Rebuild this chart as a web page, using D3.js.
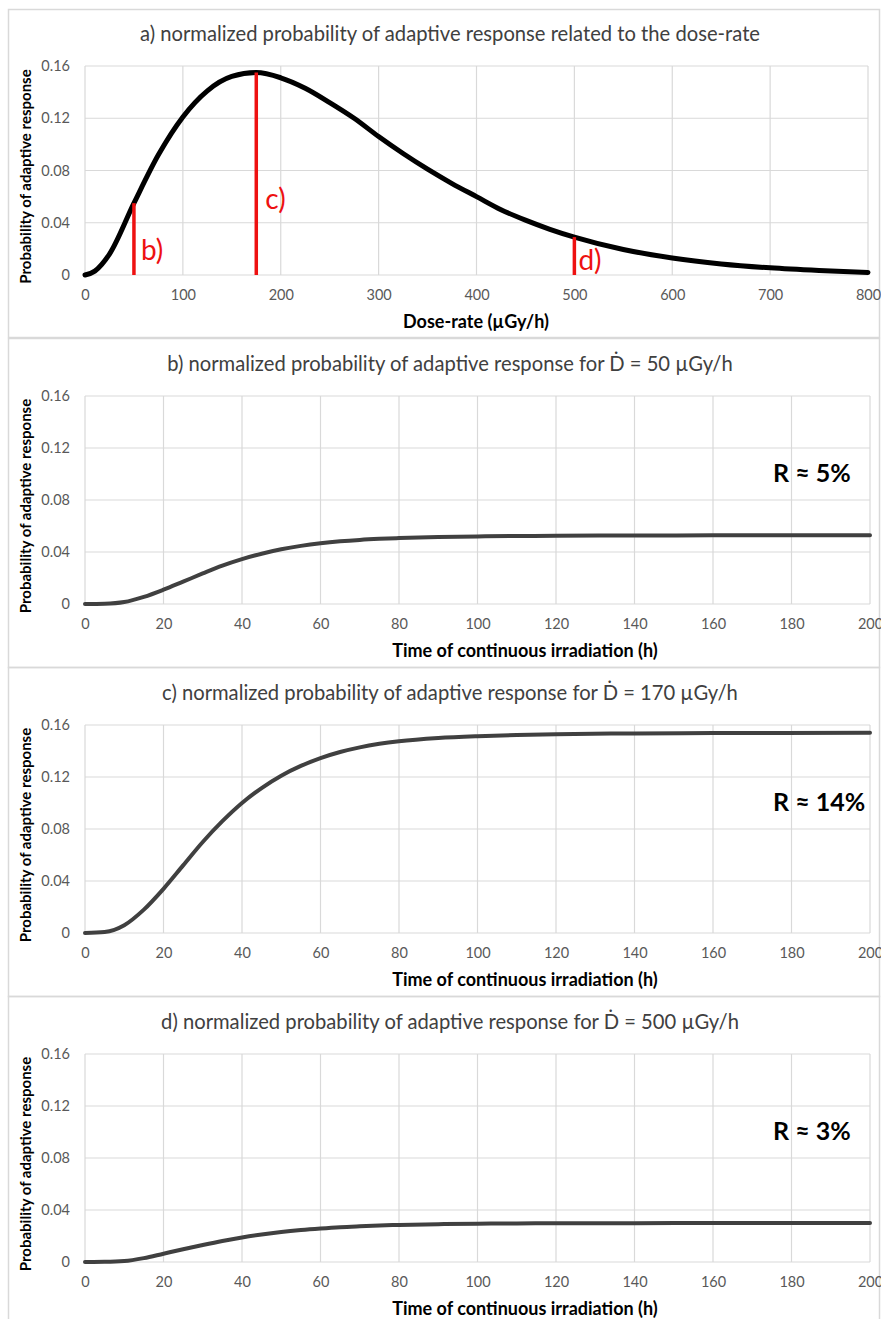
<!DOCTYPE html>
<html>
<head>
<meta charset="utf-8">
<script src="https://cdn.jsdelivr.net/npm/d3@7"></script>
<style>
  body { margin: 0; background: #fff; }
  text { font-family: Lato, "Open Sans", sans-serif; }
</style>
</head>
<body>
<div class="graph"></div>
<script>
// data
var doseRate = [0, 10, 25, 50, 75, 100, 125, 150, 175, 200, 225, 250, 275, 300, 325, 350, 375, 400, 425, 450, 475, 500, 550, 600, 650, 700, 750, 800]
var probDose = [0, 0.003, 0.016, 0.055, 0.092, 0.121, 0.141, 0.152, 0.155, 0.151, 0.143, 0.132, 0.120, 0.106, 0.093, 0.081, 0.070, 0.060, 0.050, 0.042, 0.035, 0.029, 0.0195, 0.013, 0.0085, 0.0055, 0.0035, 0.002]

var markerDose = [50, 175, 500]
var markerProb = [0.055, 0.155, 0.029]
var markerLabels = ['b)', 'c)', 'd)']

var timeH = [0, 5, 10, 15, 20, 25, 30, 35, 40, 45, 50, 55, 60, 65, 70, 75, 80, 90, 100, 110, 120, 140, 160, 200]
var prob50 = [0, 0.0002, 0.0015, 0.0055, 0.0110, 0.0172, 0.0235, 0.0295, 0.0345, 0.0387, 0.0421, 0.0447, 0.0467, 0.0482, 0.0493, 0.0501, 0.0507, 0.0515, 0.0520, 0.0523, 0.0525, 0.0527, 0.0528, 0.0528]
var prob170 = [0, 0.0008, 0.006, 0.018, 0.034, 0.052, 0.070, 0.086, 0.100, 0.1115, 0.121, 0.1285, 0.1345, 0.1392, 0.1428, 0.1455, 0.1475, 0.1500, 0.1514, 0.1523, 0.1529, 0.1535, 0.1538, 0.1540]
var prob500 = [0, 0.0001, 0.0007, 0.0030, 0.0064, 0.0098, 0.0131, 0.0162, 0.0189, 0.0212, 0.0231, 0.0246, 0.0258, 0.0268, 0.0275, 0.0281, 0.0285, 0.0291, 0.0295, 0.0297, 0.0298, 0.0299, 0.0300, 0.0300]

var probTicks = [0, 0.04, 0.08, 0.12, 0.16]
var doseTicks = [0, 100, 200, 300, 400, 500, 600, 700, 800]
var timeTicks = [0, 20, 40, 60, 80, 100, 120, 140, 160, 180, 200]

var titles = [
    'a) normalized probability of adaptive response related to the dose-rate',
    'b) normalized probability of adaptive response for \u1E0A = 50 \u00B5Gy/h',
    'c) normalized probability of adaptive response for \u1E0A = 170 \u00B5Gy/h',
    'd) normalized probability of adaptive response for \u1E0A = 500 \u00B5Gy/h'
]
var rLabels = ['R \u2248 5%', 'R \u2248 14%', 'R \u2248 3%']
var yTitle = 'Probability of adaptive response'
var doseTitle = 'Dose-rate (\u00B5Gy/h)'
var timeTitle = 'Time of continuous irradiation (h)'

// canvas
var W = 881, H = 1319
var svg = d3.select('.graph')
    .append('svg')
    .attr('width', W)
    .attr('height', H)

svg.append('rect')
    .attr('width', W)
    .attr('height', H)
    .style('fill', '#fff')

// panel frames
var frames = [[9, 337], [338, 667], [667, 996], [996, 1330]]
frames.forEach(function(f) {
    svg.append('rect')
        .attr('x', 8.5)
        .attr('y', f[0] + 0.5)
        .attr('width', 871)
        .attr('height', f[1] - f[0])
        .style('fill', 'none')
        .style('stroke', '#d9d9d9')
        .style('stroke-width', 1.5)
})

function draw_panel(p) {
    var g = svg.append('g')
    var x = d3.scaleLinear().domain(p.xDomain).range([p.left, p.right])
    var y = d3.scaleLinear().domain([0, 0.16]).range([p.bottom, p.top])

    // grid
    g.selectAll('.hgrid')
        .data(probTicks)
        .enter().append('line')
        .attr('x1', p.left).attr('x2', p.right)
        .attr('y1', function(d) { return y(d) }).attr('y2', function(d) { return y(d) })
        .style('stroke', '#d9d9d9').style('stroke-width', 1.2)
    g.selectAll('.vgrid')
        .data(p.xTicks)
        .enter().append('line')
        .attr('x1', function(d) { return x(d) }).attr('x2', function(d) { return x(d) })
        .attr('y1', p.top).attr('y2', p.bottom)
        .style('stroke', '#d9d9d9').style('stroke-width', 1.2)

    // axes (labels only)
    var yAxis = g.append('g')
        .attr('transform', 'translate(' + p.left + ',0)')
        .call(d3.axisLeft(y).tickValues(probTicks).tickSize(0).tickPadding(15)
            .tickFormat(function(d) { return d === 0 ? '0' : d3.format('.2f')(d) }))
    var xAxis = g.append('g')
        .attr('transform', 'translate(0,' + p.bottom + ')')
        .call(d3.axisBottom(x).tickValues(p.xTicks).tickSize(0).tickPadding(15)
            .tickFormat(d3.format('d')))
    ;[xAxis, yAxis].forEach(function(a) {
        a.select('.domain').remove()
        a.selectAll('text')
            .style('font-family', 'Lato, sans-serif')
            .style('font-size', '14.5px')
            .style('fill', '#595959')
    })

    // titles
    g.append('text')
        .attr('x', 450)
        .attr('y', p.top - 25)
        .attr('text-anchor', 'middle')
        .style('font-size', '20.2px')
        .style('fill', '#404040')
        .text(p.title)
    g.append('text')
        .attr('transform', 'translate(31,' + ((p.top + p.bottom) / 2 + 6) + ') rotate(-90)')
        .attr('text-anchor', 'middle')
        .style('font-size', '15px')
        .style('font-weight', 'bold')
        .style('fill', '#000')
        .text(yTitle)
    g.append('text')
        .attr('x', p.xTitleX)
        .attr('y', p.bottom + 53)
        .attr('text-anchor', 'middle')
        .style('font-size', '18px')
        .style('font-weight', 'bold')
        .style('fill', '#000')
        .text(p.xTitle)

    // curve
    var line = d3.line()
        .x(function(d) { return x(d[0]) })
        .y(function(d) { return y(d[1]) })
        .curve(d3.curveMonotoneX)
    g.append('path')
        .datum(d3.zip(p.xs, p.ys))
        .attr('d', line)
        .style('fill', 'none')
        .style('stroke', p.color)
        .style('stroke-width', p.width)
        .style('stroke-linecap', 'round')

    return {g: g, x: x, y: y}
}

// a) dose-rate panel
var pa = draw_panel({
    xDomain: [0, 800], xTicks: doseTicks, left: 85, right: 868, top: 66, bottom: 275,
    title: titles[0], xTitle: doseTitle, xTitleX: 476,
    xs: doseRate, ys: probDose, color: '#000', width: 5
})
var markers = d3.zip(markerDose, markerProb, markerLabels)
var labelDx = [7, 9, 4], labelDy = [-15, -66, -5]
pa.g.selectAll('.marker')
    .data(markers)
    .enter().append('line')
    .attr('x1', function(d) { return pa.x(d[0]) }).attr('x2', function(d) { return pa.x(d[0]) })
    .attr('y1', pa.y(0)).attr('y2', function(d) { return pa.y(d[1]) })
    .style('stroke', '#ee1111')
    .style('stroke-width', 3.5)
pa.g.selectAll('.mlabel')
    .data(markers)
    .enter().append('text')
    .attr('x', function(d, i) { return pa.x(d[0]) + labelDx[i] })
    .attr('y', function(d, i) { return pa.y(0) + labelDy[i] })
    .style('font-size', '28px')
    .style('fill', '#ee1111')
    .text(function(d) { return d[2] })

// b), c), d) time panels
var series = [prob50, prob170, prob500]
var tops = [396, 725, 1054]
series.forEach(function(s, i) {
    var p = draw_panel({
        xDomain: [0, 200], xTicks: timeTicks, left: 85, right: 870, top: tops[i], bottom: tops[i] + 208,
        title: titles[i + 1], xTitle: timeTitle, xTitleX: 525,
        xs: timeH, ys: s, color: '#404040', width: 4
    })
    p.g.append('text')
        .attr('x', 773)
        .attr('y', p.y(0.12) + 34)
        .style('font-size', '25px')
        .style('font-weight', 'bold')
        .style('fill', '#000')
        .text(rLabels[i])
})
</script>
</body>
</html>
